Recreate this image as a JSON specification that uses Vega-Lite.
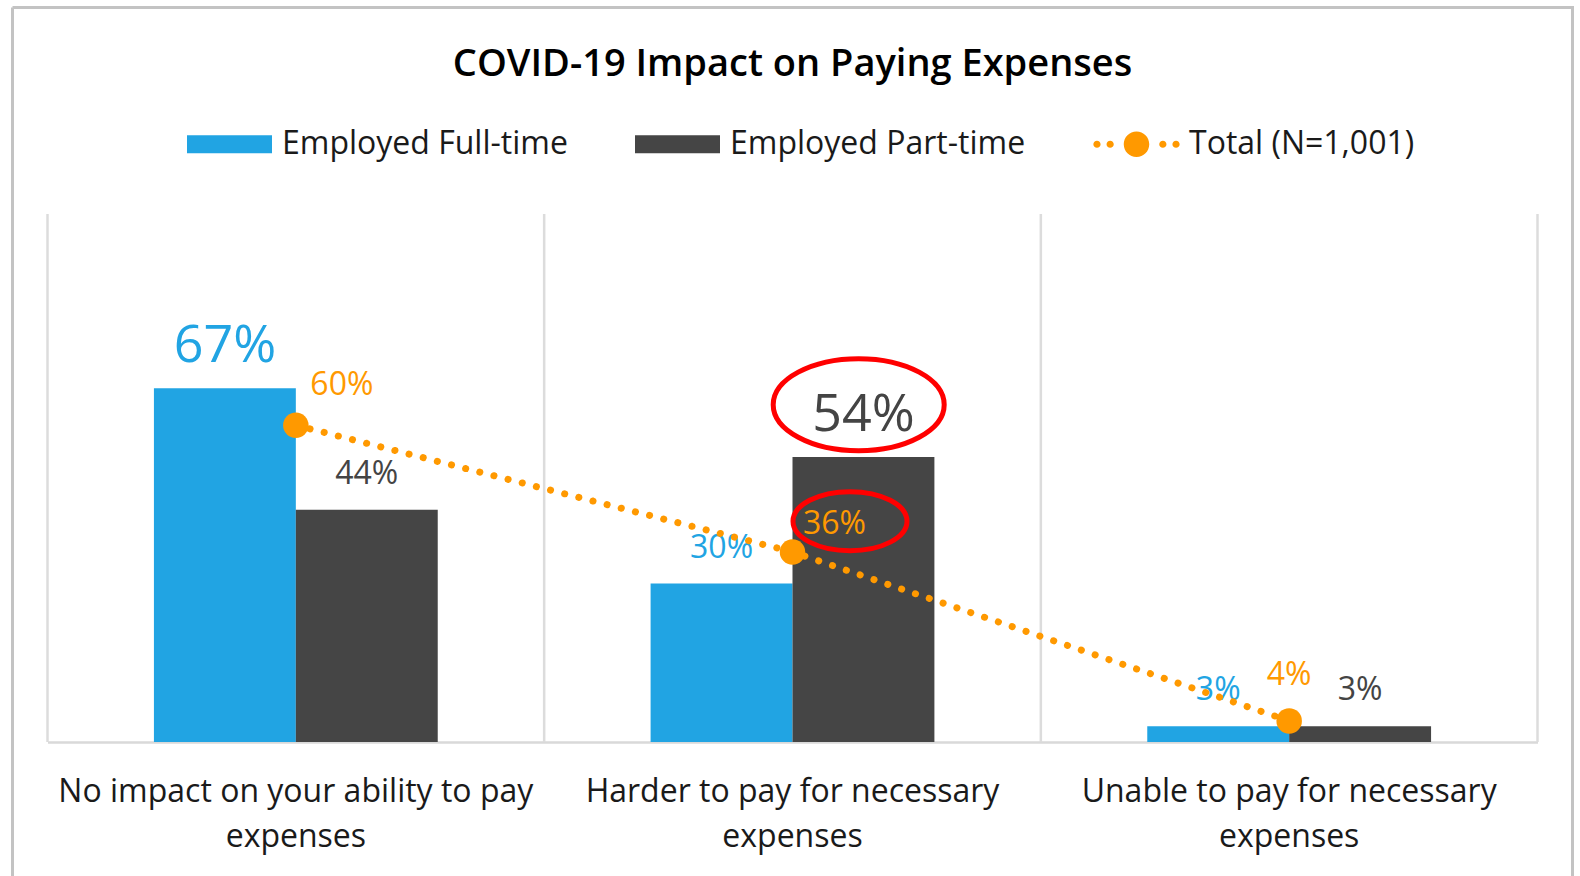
{
  "$schema": "https://vega.github.io/schema/vega-lite/v6.json",
  "width": 1560,
  "height": 868.5,
  "autosize": {"type": "none"},
  "padding": {"left": 12.5, "top": 7.5, "right": 7.5, "bottom": 0},
  "background": "white",
  "config": {"view": {"stroke": "#c3c3c3", "strokeWidth": 3, "strokeDash": [2428.5, 1560, 868.5, 0], "fill": "white"}, "font": "Open Sans"},
  "title": {"text": "COVID-19 Impact on Paying Expenses", "fontSize": 38, "fontWeight": 600, "color": "#000000", "font": "Open Sans", "anchor": "middle", "frame": "group", "offset": -76},
  "data": {"values": [
    {"category": "No impact on your ability to pay expenses", "series": "Employed Full-time", "value": 0.67},
    {"category": "No impact on your ability to pay expenses", "series": "Employed Part-time", "value": 0.44},
    {"category": "No impact on your ability to pay expenses", "series": "Total (N=1,001)", "value": 0.60},
    {"category": "Harder to pay for necessary expenses", "series": "Employed Full-time", "value": 0.30},
    {"category": "Harder to pay for necessary expenses", "series": "Employed Part-time", "value": 0.54},
    {"category": "Harder to pay for necessary expenses", "series": "Total (N=1,001)", "value": 0.36},
    {"category": "Unable to pay for necessary expenses", "series": "Employed Full-time", "value": 0.03},
    {"category": "Unable to pay for necessary expenses", "series": "Employed Part-time", "value": 0.03},
    {"category": "Unable to pay for necessary expenses", "series": "Total (N=1,001)", "value": 0.04}
  ]},
  "encoding": {
    "x": {
      "field": "category", "type": "nominal", "sort": null,
      "scale": {"domain": ["No impact on your ability to pay expenses", "Harder to pay for necessary expenses", "Unable to pay for necessary expenses"], "range": [35, 1525], "paddingInner": 0, "paddingOuter": 0},
      "axis": {
        "title": null, "labelAngle": 0, "labelFont": "Open Sans", "labelFontSize": 32, "labelColor": "#1a1a1a",
        "labelPadding": 34, "labelLineHeight": 45, "labelLimit": 700, "ticks": false, "offset": -134,
        "domain": true, "domainColor": "#d9d9d9", "domainWidth": 2.5, "grid": false,
        "labelExpr": "datum.label ? [slice(datum.label, 0, -9), 'expenses'] : ''"
      }
    },
    "y": {"field": "value", "type": "quantitative", "scale": {"domain": [0, 1], "range": [734.5, 206.5], "nice": false}, "axis": null}
  },
  "layer": [
    {
      "transform": [{"filter": "datum.series == 'Total (N=1,001)'"}],
      "mark": {"type": "rule", "color": "#dcdcdc", "strokeWidth": 2.5},
      "encoding": {
        "x": {"field": "category", "type": "nominal", "sort": null, "bandPosition": 0},
        "y": {"datum": 0},
        "y2": {"datum": 1}
      }
    },
    {
      "transform": [{"filter": "datum.series == 'Total (N=1,001)' && datum.category == 'Unable to pay for necessary expenses'"}],
      "mark": {"type": "rule", "color": "#dcdcdc", "strokeWidth": 2.5},
      "encoding": {
        "x": {"field": "category", "type": "nominal", "sort": null, "bandPosition": 1},
        "y": {"datum": 0},
        "y2": {"datum": 1}
      }
    },
    {
      "transform": [{"filter": "datum.series != 'Total (N=1,001)'"}],
      "mark": {"type": "bar"},
      "encoding": {
        "xOffset": {"field": "series", "type": "nominal", "scale": {"domain": ["Employed Full-time", "Employed Part-time"], "paddingInner": 0, "paddingOuter": 0.75}},
        "color": {
          "field": "series", "type": "nominal",
          "scale": {"domain": ["Employed Full-time", "Employed Part-time", "Total (N=1,001)"], "range": ["#21A4E3", "#454545", "#FF9900"]},
          "legend": {
            "orient": "none", "legendX": 174.5, "legendY": 94, "direction": "horizontal", "title": null,
            "labelFont": "Open Sans", "labelFontSize": 32, "labelColor": "#1a1a1a", "labelOffset": 10,
            "symbolSize": 7225, "symbolStrokeWidth": 0, "columnPadding": 67, "padding": 0, "labelLimit": 500,
            "encode": {"symbols": {"update": {
              "shape": {"signal": "datum.value === 'Total (N=1,001)' ? 'M-1.015,0a0.085,0.085 0 1,0 0.17,0a0.085,0.085 0 1,0 -0.17,0M-0.705,0a0.085,0.085 0 1,0 0.17,0a0.085,0.085 0 1,0 -0.17,0M-0.3,0a0.3,0.3 0 1,0 0.6,0a0.3,0.3 0 1,0 -0.6,0M0.535,0a0.085,0.085 0 1,0 0.17,0a0.085,0.085 0 1,0 -0.17,0M0.845,0a0.085,0.085 0 1,0 0.17,0a0.085,0.085 0 1,0 -0.17,0' : 'M-1,-0.21H1V0.21H-1Z'"},
              "fill": {"signal": "scale('color', datum.value)"},
              "strokeWidth": {"value": 0},
              "opacity": {"value": 1}
            }}}
          }
        }
      }
    },
    {
      "transform": [{"filter": "datum.series != 'Total (N=1,001)'"}],
      "mark": {"type": "text", "baseline": "alphabetic", "dy": -26, "font": "Open Sans"},
      "encoding": {
        "xOffset": {"field": "series", "type": "nominal", "scale": {"domain": ["Employed Full-time", "Employed Part-time"], "paddingInner": 0, "paddingOuter": 0.75}},
        "text": {"field": "value", "type": "quantitative", "format": ".0%"},
        "color": {"condition": {"test": "datum.series == 'Employed Full-time'", "value": "#21A4E3"}, "value": "#444444"},
        "size": {"condition": {"test": "datum.value > 0.5", "value": 52}, "value": 32}
      }
    },
    {
      "transform": [{"filter": "datum.series == 'Total (N=1,001)'"}],
      "mark": {"type": "line", "strokeWidth": 7, "strokeDash": [0.1, 14.5], "strokeCap": "round"},
      "encoding": {
        "color": {"field": "series", "type": "nominal", "scale": {"domain": ["Employed Full-time", "Employed Part-time", "Total (N=1,001)"], "range": ["#21A4E3", "#454545", "#FF9900"]}}
      }
    },
    {
      "transform": [{"filter": "datum.series == 'Total (N=1,001)'"}],
      "mark": {"type": "point", "filled": true, "size": 650, "color": "#FF9900", "opacity": 1}
    },
    {
      "transform": [{"filter": "datum.series == 'Total (N=1,001)' && datum.category == 'No impact on your ability to pay expenses'"}],
      "mark": {"type": "text", "align": "left", "baseline": "alphabetic", "dx": 14.5, "dy": -30.7, "fontSize": 32, "color": "#FF9900", "font": "Open Sans"},
      "encoding": {"text": {"field": "value", "type": "quantitative", "format": ".0%"}}
    },
    {
      "transform": [{"filter": "datum.series == 'Total (N=1,001)' && datum.category == 'Harder to pay for necessary expenses'"}],
      "mark": {"type": "text", "align": "left", "baseline": "alphabetic", "dx": 10.5, "dy": -18.4, "fontSize": 32, "color": "#FF9900", "font": "Open Sans"},
      "encoding": {"text": {"field": "value", "type": "quantitative", "format": ".0%"}}
    },
    {
      "transform": [{"filter": "datum.series == 'Total (N=1,001)' && datum.category == 'Unable to pay for necessary expenses'"}],
      "mark": {"type": "text", "align": "center", "baseline": "alphabetic", "dy": -35.4, "fontSize": 32, "color": "#FF9900", "font": "Open Sans"},
      "encoding": {"text": {"field": "value", "type": "quantitative", "format": ".0%"}}
    },
    {
      "transform": [{"filter": "datum.series == 'Employed Part-time' && datum.category == 'Harder to pay for necessary expenses'"}],
      "mark": {"type": "point", "shape": "M-1,0a1,0.538 0 1,0 2,0a1,0.538 0 1,0 -2,0", "size": 29241, "filled": false, "stroke": "#FF0000", "strokeWidth": 5, "opacity": 1, "xOffset": 66.2, "yOffset": -52.2}
    },
    {
      "transform": [{"filter": "datum.series == 'Total (N=1,001)' && datum.category == 'Harder to pay for necessary expenses'"}],
      "mark": {"type": "point", "shape": "M-1,0a1,0.518 0 1,0 2,0a1,0.518 0 1,0 -2,0", "size": 12996, "filled": false, "stroke": "#FF0000", "strokeWidth": 5, "opacity": 1, "xOffset": 57.5, "yOffset": -30.7}
    }
  ]
}
